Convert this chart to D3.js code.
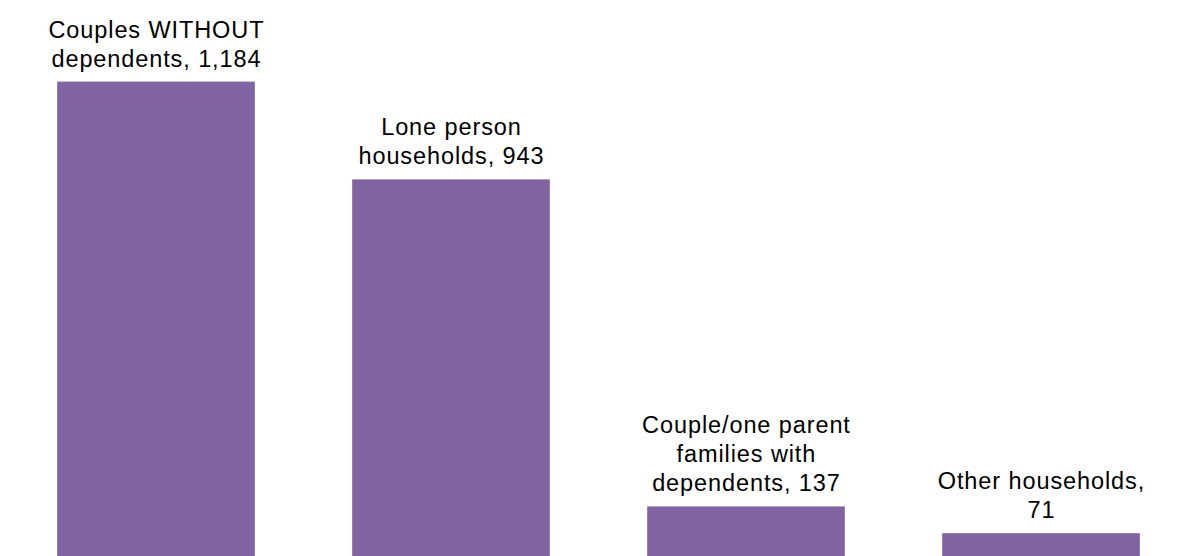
<!DOCTYPE html>
<html>
<head>
<meta charset="utf-8">
<script src="https://cdn.jsdelivr.net/npm/d3@7"></script>
<style>
  html, body { margin: 0; padding: 0; background: #ffffff; }
  svg { display: block; }
</style>
</head>
<body>
<svg id="chart" width="1177" height="556"></svg>
<script>
const categories = ["Couples WITHOUT dependents", "Lone person households", "Couple/one parent families with dependents", "Other households"];
const values = [1184, 943, 137, 71];
const labelLines = [
  ["Couples WITHOUT", "dependents, 1,184"],
  ["Lone person", "households, 943"],
  ["Couple/one parent", "families with", "dependents, 137"],
  ["Other households,", "71"]
];

const W = 1177, H = 556;
const svg = d3.select("#chart");

const x = d3.scaleBand()
  .domain(categories)
  .range([8.5, 1188.5])
  .paddingInner(0.33)
  .paddingOuter(0.165);

const y = d3.scaleLinear()
  .domain([0, 1200])
  .range([562, 75.1]);

const data = categories.map((c, i) => ({ c, v: values[i], lines: labelLines[i] }));

svg.selectAll("rect.bar")
  .data(data)
  .join("rect")
  .attr("class", "bar")
  .attr("x", d => x(d.c))
  .attr("y", d => y(d.v))
  .attr("width", x.bandwidth())
  .attr("height", d => y(0) - y(d.v))
  .attr("fill", "#8064A2");

const lineH = 29;
const lbl = svg.selectAll("text.lbl")
  .data(data)
  .join("text")
  .attr("class", "lbl")
  .attr("text-anchor", "middle")
  .attr("font-family", "Liberation Sans, Arial, sans-serif")
  .attr("font-size", 23.5)
  .attr("letter-spacing", "0.9px")
  .attr("fill", "#000");

lbl.each(function(d) {
  const t = d3.select(this);
  const n = d.lines.length;
  const cx = x(d.c) + x.bandwidth() / 2 + 0.45;
  const lastBase = y(d.v) - 15;
  d.lines.forEach((ln, k) => {
    t.append("tspan")
      .attr("x", cx)
      .attr("y", lastBase - (n - 1 - k) * lineH)
      .text(ln);
  });
});
</script>
</body>
</html>
